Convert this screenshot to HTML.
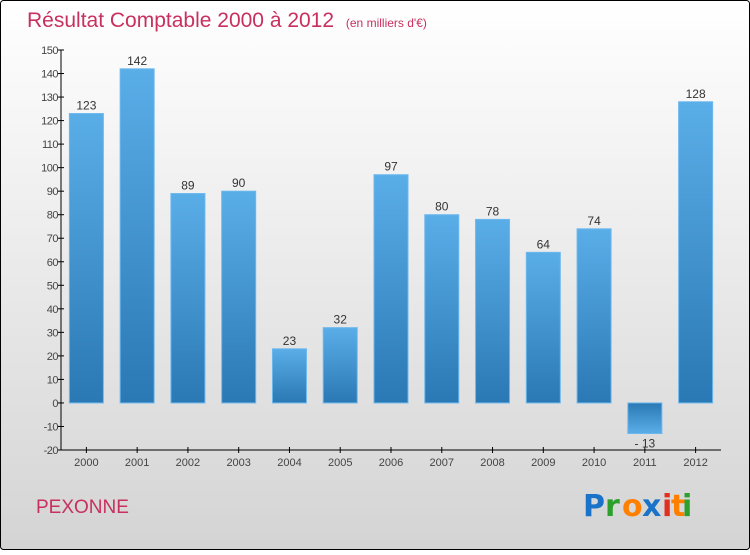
<!DOCTYPE html>
<html><head><meta charset="utf-8"><style>
body{margin:0;width:750px;height:550px;overflow:hidden;font-family:"Liberation Sans",sans-serif}
</style></head><body>
<svg width="750" height="550" xmlns="http://www.w3.org/2000/svg">
<defs>
<linearGradient id="bg" x1="0" y1="0" x2="0" y2="1"><stop offset="0" stop-color="#ffffff"/><stop offset="1" stop-color="#d4d4d4"/></linearGradient>
<linearGradient id="bp" x1="0" y1="0" x2="0" y2="1"><stop offset="0" stop-color="#5aaee8"/><stop offset="1" stop-color="#2a78b4"/></linearGradient>
<linearGradient id="bn" x1="0" y1="0" x2="0" y2="1"><stop offset="0" stop-color="#2a78b4"/><stop offset="1" stop-color="#5aaee8"/></linearGradient>
</defs>
<rect x="0.5" y="0.5" width="749" height="549" rx="3" fill="url(#bg)" stroke="#000"/>
<text x="27" y="27" font-size="21" fill="#c8305f">Résultat Comptable 2000 à 2012 <tspan font-size="12" dx="6">(en milliers d'€)</tspan></text>
<g id="axes"></g>
<g id="bars"></g>
<text x="36" y="513" font-size="19" fill="#c8305f">PEXONNE</text>
<g font-size="30" font-family="DejaVu Sans, sans-serif" font-weight="bold">
<text x="583" y="516" fill="#1a73c8">P</text><text x="605" y="516" fill="#2ca02c">r</text><text x="622" y="516" fill="#ff8000">o</text><text x="642" y="516" fill="#1a73c8">x</text><text x="662" y="516" fill="#e03020">i</text><text x="671" y="516" fill="#ff8000">t</text><text x="682" y="516" fill="#2ca02c">i</text>
</g>
</svg>
<script>
const categories=["2000","2001","2002","2003","2004","2005","2006","2007","2008","2009","2010","2011","2012"];
const values=[123,142,89,90,23,32,97,80,78,64,74,-13,128];
const yTicks=[-20,-10,0,10,20,30,40,50,60,70,80,90,100,110,120,130,140,150];
const NS="http://www.w3.org/2000/svg";
const x0=61,x1=721,yMin=-20,yMax=150,pyMin=450,pyMax=50;
const y=v=>pyMin-(v-yMin)*(pyMin-pyMax)/(yMax-yMin);
const step=(x1-x0)/categories.length;
const cx=i=>x0+step*(i+0.5);
function mk(t,a,p){const e=document.createElementNS(NS,t);for(const k in a)e.setAttribute(k,a[k]);p.appendChild(e);return e;}
const ax=document.getElementById('axes'),bg=document.getElementById('bars');
let l=mk('line',{x1:x0,y1:pyMin,x2:x0,y2:pyMax,stroke:'#000'},ax);


l=mk('line',{x1:x0,y1:pyMin,x2:x1,y2:pyMin,stroke:'#000'},ax);


yTicks.forEach(v=>{
 mk('line',{x1:x0-3,x2:x0+3,y1:y(v),y2:y(v),stroke:'#000'},ax);
 const t=mk('text',{x:x0-3,y:y(v)+4,'text-anchor':'end','font-size':11,fill:'#444','letter-spacing':'-0.5'},ax);
 t.textContent=v;
 
 
});
categories.forEach((c,i)=>{
 mk('line',{x1:cx(i),x2:cx(i),y1:pyMin-3,y2:pyMin+3,stroke:'#000'},ax);
 const t=mk('text',{x:cx(i),y:pyMin+16,'text-anchor':'middle','font-size':11,fill:'#444'},ax);
 t.textContent=c;
 
 
 const v=values[i],top=Math.min(y(v),y(0)),h=Math.abs(y(v)-y(0));
 const r=mk('rect',{x:cx(i)-17,y:top,width:34,height:h,fill:v>=0?'url(#bp)':'url(#bn)',stroke:'#6cb8ee','stroke-width':1},bg);
 
 
 const lb=mk('text',{x:cx(i),y:v>=0?y(v)-4:y(v)+14,'text-anchor':'middle','font-size':12,fill:'#333'},bg);
 lb.textContent=v<0?'- '+Math.abs(v):v;
 
 
});
</script>
</body></html>
